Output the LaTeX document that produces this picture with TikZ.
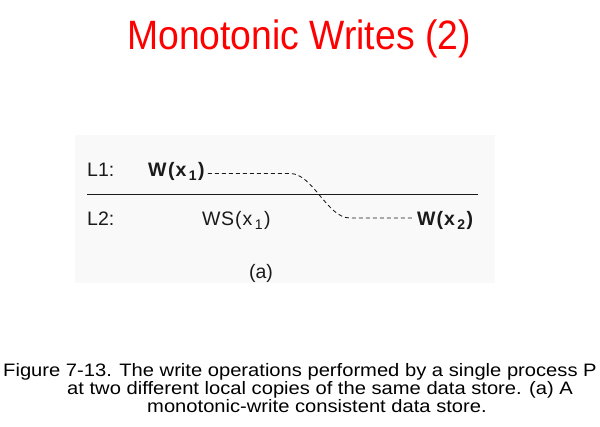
\documentclass[tikz,border=0pt]{standalone}
\usepackage{fontspec}
\setmainfont{Liberation Sans}
\usetikzlibrary{positioning}
\definecolor{titlered}{HTML}{FF0000}
\definecolor{figgrey}{HTML}{F9F9F9}
\definecolor{inkgrey}{HTML}{1A1A1A}
\newcommand{\subidx}[1]{\kern2.5pt\raisebox{-4pt}{\fontsize{14}{14}\selectfont #1}\kern1.5pt}

\begin{document}
\begin{tikzpicture}[
        x=1pt, y=-1pt,
        lbl/.style={anchor=base west, inner sep=0pt, text=inkgrey, font=\fontsize{19.5}{22}\selectfont},
        capline/.style={anchor=base west, inner sep=0pt, xscale=1.12, font=\fontsize{18}{20}\selectfont},
        trace/.style={dash pattern=on 4pt off 3pt, line width=0.85pt, inkgrey},
      ]
        \useasboundingbox (0,0) rectangle (600,427);
        \fill[figgrey] (75,135) rectangle (495,283);
        \node[anchor=base, inner sep=0pt, text=titlered, xscale=0.91, font=\fontsize{41}{46}\selectfont] (title) at (299,50) {Monotonic Writes (2)};
        % the two local copies
        \node[lbl] (l1) at (87,177) {L1:};
        \node[lbl] (w1) at (148,177) {\textbf{W\kern1.5pt(\kern1pt x\subidx{1})}};
        \node[lbl] (l2) at (87,226) {L2:};
        \node[lbl] (ws1) at (202,226) {W\kern.5pt S\kern1pt(\kern1pt x\subidx{1})};
        \node[lbl] (w2) at (417,226) {\textbf{W\kern1pt(\kern1pt x\subidx{2})}};
        \coordinate (sl) at (87,194.5);
        \coordinate (sr) at (478,194.5);
        \draw[line width=0.9pt, inkgrey] (sl) -- (sr);
        \coordinate (c1) at (290,173.5);
        \coordinate (c2) at (350,218);
        \draw[trace] ([xshift=3pt]w1.east |- c1) -- (c1) .. controls (313,173.5) and (327,218) .. (c2) -- ([xshift=-5pt]c2 -| w2.west);
        \node[lbl, anchor=base] (sub) at (261,279) {(a)};
        % caption
        \node[capline] (cap1) at (3,377) {Figure 7-13. The write operations performed by a single process P};
        \node[capline] (cap2) at (67,395) {at two different local copies of the same data store. (a) A};
        \node[capline] (cap3) at (147,413) {monotonic-write consistent data store.};
      \end{tikzpicture}
\end{document}
